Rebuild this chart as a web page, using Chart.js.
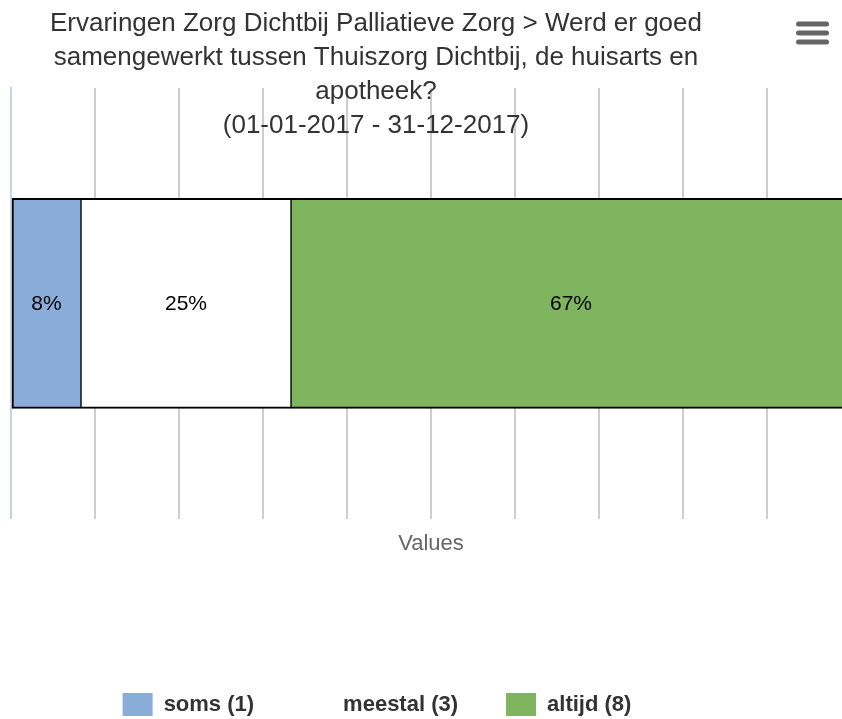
<!DOCTYPE html>
<html>
<head>
<meta charset="utf-8">
<script src="https://cdn.jsdelivr.net/npm/chart.js@4/dist/chart.umd.min.js"></script>
<style>
  html, body { margin: 0; padding: 0; background: #fff; overflow: hidden; }
  #wrap { width: 852px; height: 719px; }
</style>
</head>
<body>
<div id="wrap"><canvas id="c" width="852" height="719"></canvas></div>
<script>
// ---- data ----
const titleLines = [
  'Ervaringen Zorg Dichtbij Palliatieve Zorg > Werd er goed',
  'samengewerkt tussen Thuiszorg Dichtbij, de huisarts en',
  'apotheek?',
  '(01-01-2017 - 31-12-2017)'
];
const categories = ['Werd er goed samengewerkt?'];
const seriesNames = ['soms', 'meestal', 'altijd'];
const seriesCounts = [1, 3, 8];
const seriesColors = ['#89acd8', '#ffffff', '#7fb55f'];
const axisTitle = 'Values';
const axisTicks = [0, 10, 20, 30, 40, 50, 60, 70, 80, 90, 100];

// percent stacking (as the original chart does)
const total = seriesCounts.reduce((a, b) => a + b, 0);
const seriesPercent = seriesCounts.map(v => v / total * 100);

const borderWidths = [
  {top: 2, bottom: 2, left: 2, right: 1},
  {top: 2, bottom: 2, left: 1, right: 1},
  {top: 2, bottom: 2, left: 1, right: 2}
];

const datasets = seriesNames.map((name, i) => ({
  label: name + ' (' + seriesCounts[i] + ')',
  data: [seriesPercent[i]],
  backgroundColor: seriesColors[i],
  borderColor: '#000000',
  borderWidth: borderWidths[i],
  borderSkipped: false,
  barThickness: 210
}));

// ---- plugins ----
const titlePlugin = {
  id: 'customTitle',
  afterDraw(chart) {
    const ctx = chart.ctx;
    ctx.save();
    ctx.fillStyle = '#333333';
    ctx.font = '26px "Liberation Sans", Arial, sans-serif';
    ctx.textAlign = 'center';
    ctx.textBaseline = 'alphabetic';
    titleLines.forEach((t, i) => ctx.fillText(t, 376, 31 + 34 * i));
    // menu icon
    ctx.strokeStyle = '#666666';
    ctx.lineWidth = 5;
    ctx.lineCap = 'round';
    [24, 33, 42].forEach(y => {
      ctx.beginPath();
      ctx.moveTo(798.5, y);
      ctx.lineTo(826.5, y);
      ctx.stroke();
    });
    ctx.restore();
  }
};

const labelPlugin = {
  id: 'dataLabels',
  afterDatasetsDraw(chart) {
    const ctx = chart.ctx;
    ctx.save();
    ctx.fillStyle = '#000000';
    ctx.font = '21px "Liberation Sans", Arial, sans-serif';
    ctx.textAlign = 'center';
    ctx.textBaseline = 'middle';
    chart.data.datasets.forEach((ds, i) => {
      const meta = chart.getDatasetMeta(i);
      meta.data.forEach((el, j) => {
        const p = el.getCenterPoint();
        ctx.fillText(Math.round(ds.data[j]) + '%', p.x, p.y + 1);
      });
    });
    ctx.restore();
  }
};

const legendPos = {
  id: 'legendPos',
  afterLayout(chart) {
    const L = chart.legend;
    if (!L) return;
    L.left = 0; L.right = 754; L.width = 754;
    L.top = 645; L.bottom = 719; L.height = 74;
  }
};

new Chart(document.getElementById('c'), {
  type: 'bar',
  data: { labels: categories, datasets },
  options: {
    indexAxis: 'y',
    responsive: false,
    animation: false,
    devicePixelRatio: 1,
    layout: { padding: { top: 88, left: 11, right: 1, bottom: 81 } },
    scales: {
      x: {
        stacked: true,
        min: 0,
        max: 100,
        afterBuildTicks(scale) { scale.ticks = axisTicks.map(v => ({ value: v })); },
        ticks: { display: false },
        grid: {
          drawTicks: false,
          lineWidth: 2,
          color: ctx => ctx.index === 0 ? 'rgba(0,0,0,0)' : '#cdcdcd'
        },
        border: { display: false },
        title: {
          display: true,
          text: axisTitle,
          color: '#666666',
          font: { family: '"Liberation Sans", Arial, sans-serif', size: 22 },
          padding: { top: 12, bottom: 0 }
        }
      },
      y: {
        stacked: true,
        ticks: { display: false },
        grid: { display: false, drawTicks: false },
        border: { display: true, color: '#c6d4e8', width: 2 }
      }
    },
    plugins: {
      title: { display: false },
      tooltip: { enabled: false },
      legend: {
        position: 'bottom',
        labels: {
          boxWidth: 30,
          boxHeight: 23,
          padding: 48,
          color: '#333333',
          font: { family: '"Liberation Sans", Arial, sans-serif', size: 22, weight: 'bold' },
          generateLabels(chart) {
            return chart.data.datasets.map((ds, i) => ({
              text: ds.label,
              fillStyle: ds.backgroundColor,
              strokeStyle: 'rgba(0,0,0,0)',
              lineWidth: 0,
              hidden: false,
              datasetIndex: i,
              fontColor: '#333333'
            }));
          }
        }
      }
    }
  },
  plugins: [titlePlugin, labelPlugin, legendPos]
});
</script>
</body>
</html>
